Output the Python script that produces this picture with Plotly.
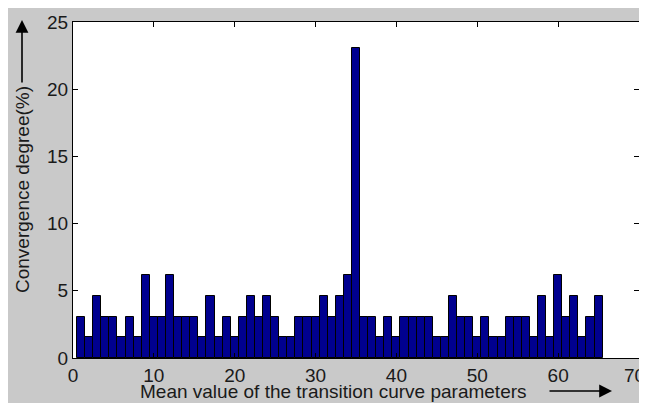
import plotly.graph_objects as go

# ---- data ----
unit = 100.0 / 65.0
positions = list(range(1, 66))
counts = [2, 1, 3, 2, 2, 1, 2, 1, 4, 2,
          2, 4, 2, 2, 2, 1, 3, 1, 2, 1,
          2, 3, 2, 3, 2, 1, 1, 2, 2, 2,
          3, 2, 3, 4, 15, 2, 2, 1, 2, 1,
          2, 2, 2, 2, 1, 1, 3, 2, 2, 1,
          2, 1, 1, 2, 2, 2, 1, 3, 1, 4,
          2, 3, 1, 2, 3]
convergence = [c * unit for c in counts]
x_ticks = [0, 10, 20, 30, 40, 50, 60, 70]
y_ticks = [0, 5, 10, 15, 20, 25]
x_title = "Mean value of the transition curve parameters"
y_title = "Convergence degree(%)"

# ---- layout geometry (screen pixels; page body adds an 8px offset) ----
OFF = 8
W, H = 647 - OFF, 403 - OFF
L, R, T, B = 73, 639, 22, 358  # plot area in screen pixels
PW, PH = R - L, B - T


def px(xs):
    return (xs - L) / PW


def py(ys):
    return (B - ys) / PH


FONT = "Liberation Sans, Arial, sans-serif"
TXT = "#1a1a1a"

fig = go.Figure()
fig.add_trace(go.Bar(
    x=positions, y=convergence, width=1,
    marker=dict(color="#00008F", line=dict(color="black", width=1)),
))

fig.update_layout(
    width=W, height=H,
    margin=dict(l=L - OFF, r=W - (R - OFF), t=T - OFF, b=H - (B - OFF),
                autoexpand=False),
    paper_bgcolor="#c9c9c9",
    plot_bgcolor="white",
    showlegend=False,
    bargap=0,
    font=dict(family=FONT, size=19, color=TXT),
)

# last x tick label sits at the figure edge; it is drawn as an annotation
x_ticktext = [str(v) for v in x_ticks[:-1]] + [""]

fig.update_xaxes(
    range=[0, 70], tickvals=x_ticks, ticktext=x_ticktext,
    ticks="inside", ticklen=5, tickcolor="black", mirror="ticks",
    showline=True, linecolor="black", linewidth=1,
    showgrid=False, zeroline=False, automargin=False,
    tickfont=dict(family=FONT, size=19, color=TXT),
)
fig.update_yaxes(
    range=[0, 25], tickvals=y_ticks, ticktext=[str(v) for v in y_ticks],
    ticks="inside", ticklen=5, tickcolor="black", mirror="ticks",
    showline=True, linecolor="black", linewidth=1,
    showgrid=False, zeroline=False, automargin=False,
    tickfont=dict(family=FONT, size=19, color=TXT),
)

fig.add_annotation(
    text=str(x_ticks[-1]), xref="paper", yref="paper",
    x=px(646), y=py(375), xanchor="right", yanchor="middle",
    showarrow=False, borderpad=0,
    font=dict(family=FONT, size=19, color=TXT),
)
fig.add_annotation(
    text=x_title, xref="paper", yref="paper",
    x=px(333.5), y=py(391), xanchor="center", yanchor="middle",
    showarrow=False, font=dict(family=FONT, size=19, color=TXT),
)
fig.add_annotation(
    text=y_title, xref="paper", yref="paper", textangle=-90,
    x=px(22), y=py(190), xanchor="center", yanchor="middle",
    showarrow=False, font=dict(family=FONT, size=19, color=TXT),
)
# arrows
fig.add_annotation(
    text="", xref="paper", yref="paper", x=px(612), y=py(391),
    ax=-64, ay=0, showarrow=True, arrowhead=2, arrowsize=1.6,
    arrowwidth=1.6, arrowcolor="black", standoff=0,
)
fig.add_annotation(
    text="", xref="paper", yref="paper", x=px(22), y=py(20),
    ax=0, ay=64, showarrow=True, arrowhead=2, arrowsize=1.6,
    arrowwidth=1.6, arrowcolor="black", standoff=0,
)

fig.write_html("out.html")
